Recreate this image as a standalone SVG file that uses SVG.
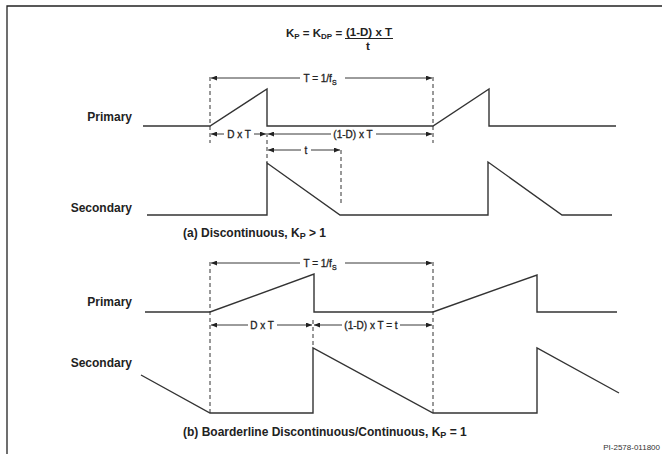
<svg xmlns="http://www.w3.org/2000/svg" width="662" height="454" viewBox="0 0 662 454">
<defs>
<marker id="ah" viewBox="0 0 6 5" refX="6" refY="2.5" markerWidth="6" markerHeight="5" markerUnits="userSpaceOnUse" orient="auto">
<path d="M0,0 L6,2.5 L0,5 z" fill="#222"/>
</marker>
</defs>
<style>
.frame{fill:none;stroke:#222;stroke-width:1.3}
.wave{fill:none;stroke:#333;stroke-width:1.4;stroke-linejoin:miter}
.dash{fill:none;stroke:#333;stroke-width:1;stroke-dasharray:4,3}
.dim{fill:none;stroke:#222;stroke-width:0.9;marker-end:url(#ah)}
.lbl{font-family:"Liberation Sans",Arial,sans-serif;font-weight:bold;font-size:12px;fill:#222}
.fm{font-family:"Liberation Sans",Arial,sans-serif;font-weight:bold;font-size:11.5px;fill:#222}
.dt{font-family:"Liberation Sans",Arial,sans-serif;font-size:10px;fill:#222;stroke:#222;stroke-width:0.3}
.pi{font-family:"Liberation Sans",Arial,sans-serif;font-size:8px;fill:#333}
</style>
<rect width="662" height="454" fill="#fff"/>
<path class="frame" d="M7,454 V6 H662"/>
<g id="formula">
<text class="fm" x="286" y="37">K<tspan font-size="8" dy="2">P</tspan><tspan dy="-2"> = K</tspan><tspan font-size="8" dy="2">DP</tspan><tspan dy="-2"> =</tspan></text>
<text class="fm" x="369" y="35.5" text-anchor="middle">(1-D) x T</text>
<line x1="345" y1="38.5" x2="393" y2="38.5" stroke="#222" stroke-width="1"/>
<text class="fm" x="368" y="49.5" text-anchor="middle">t</text>
</g>
<g id="section-a">
<text class="lbl" x="132" y="121" text-anchor="end">Primary</text>
<text class="lbl" x="132" y="212" text-anchor="end">Secondary</text>
<path id="primary-a" class="wave" d="M143,126 H210 L267,89 V126 H433 L489,89 V126 H616"/>
<path id="secondary-a" class="wave" d="M147,215 H267 V163 L340,215 H488 V162 L562,215 H612"/>
<text class="lbl" x="183" y="237">(a) Discontinuous, K<tspan font-size="9" dy="2">P</tspan><tspan dy="-2"> &gt; 1</tspan></text>
</g>
<g id="section-b">
<text class="lbl" x="132" y="306" text-anchor="end">Primary</text>
<text class="lbl" x="132" y="367" text-anchor="end">Secondary</text>
<path id="primary-b" class="wave" d="M145,312 H210 L314,274 V312 H433 L537,275 V312 H617"/>
<path id="secondary-b" class="wave" d="M141,375 L210,413 H313 V348 L433,413 H537 V348 L619,393"/>
<text class="lbl" x="183" y="436">(b) Boarderline Discontinuous/Continuous, K<tspan font-size="9" dy="2">P</tspan><tspan dy="-2"> = 1</tspan></text>
</g>
<g id="connectors">
<line class="dash" x1="210" y1="77" x2="210" y2="143"/>
<line class="dash" x1="433" y1="77" x2="433" y2="143"/>
<line class="dash" x1="267" y1="133" x2="267" y2="163"/>
<line class="dash" x1="341" y1="150" x2="341" y2="203"/>
<path class="dim" d="M300,78 H211"/>
<path class="dim" d="M345,78 H432"/>
<path class="dim" d="M224,134 H211"/>
<path class="dim" d="M254,134 H266"/>
<path class="dim" d="M331,134 H268"/>
<path class="dim" d="M376,134 H432"/>
<path class="dim" d="M301,150 H268"/>
<path class="dim" d="M311,150 H340"/>
<line class="dash" x1="210" y1="262" x2="210" y2="413"/>
<line class="dash" x1="433" y1="262" x2="433" y2="413"/>
<line class="dash" x1="313" y1="320" x2="313" y2="347"/>
<path class="dim" d="M300,263 H211"/>
<path class="dim" d="M345,263 H432"/>
<path class="dim" d="M248,325 H211"/>
<path class="dim" d="M277,325 H312"/>
<path class="dim" d="M342,325 H314"/>
<path class="dim" d="M400,325 H432"/>
</g>
<g id="dim-labels">
<text class="dt" x="320" y="81.5" text-anchor="middle">T = 1/f<tspan font-size="7" dy="3">S</tspan></text>
<text class="dt" x="239" y="137.5" text-anchor="middle">D x T</text>
<text class="dt" x="353" y="137.5" text-anchor="middle">(1-D) x T</text>
<text class="dt" x="306" y="153.5" text-anchor="middle">t</text>
<text class="dt" x="320" y="266.5" text-anchor="middle">T = 1/f<tspan font-size="7" dy="3">S</tspan></text>
<text class="dt" x="262" y="328.5" text-anchor="middle">D x T</text>
<text class="dt" x="371" y="328.5" text-anchor="middle">(1-D) x T = t</text>
</g>
<text class="pi" x="660" y="450" text-anchor="end">PI-2578-011800</text>
</svg>
